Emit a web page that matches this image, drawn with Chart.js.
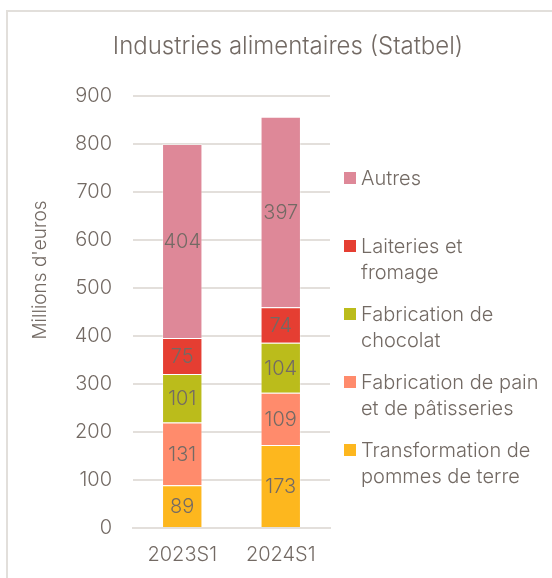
<!DOCTYPE html>
<html>
<head>
<meta charset="utf-8">
<script src="https://cdn.jsdelivr.net/npm/chart.js@4.4.1/dist/chart.umd.min.js"></script>
<style>
  body { margin: 0; background: #fff; overflow: hidden; }
  #frame {
    position: absolute; left: 6px; top: 10px; width: 600px; height: 620px;
    border: 2px solid #e2dfdb; box-sizing: border-box;
  }
  #chart { position: absolute; left: 0; top: 0; }
</style>
</head>
<body>
<div id="frame"></div>
<canvas id="chart" width="552" height="578"></canvas>
<script>
const periods = ['2023S1', '2024S1'];

const pommes = [89, 173];
const pain = [131, 109];
const chocolat = [101, 104];
const laiteries = [75, 74];
const autres = [404, 397];

const yTicks = [0, 100, 200, 300, 400, 500, 600, 700, 800, 900];

const textColor = '#736a64';
const gridColor = '#e3dfdb';
const fontFamily = 'Inter, sans-serif';

// legend text, top to bottom, as wrapped in the picture
const legendText = [
  ['Autres'],
  ['Laiteries et', 'fromage'],
  ['Fabrication de', 'chocolat'],
  ['Fabrication de pain', 'et de pâtisseries'],
  ['Transformation de', 'pommes de terre']
];

const datasets = [
  { label: 'Transformation de pommes de terre', data: pommes, backgroundColor: '#fdb71e' },
  { label: 'Fabrication de pain et de pâtisseries', data: pain, backgroundColor: '#ff8b6c' },
  { label: 'Fabrication de chocolat', data: chocolat, backgroundColor: '#bbbc1b' },
  { label: 'Laiteries et fromage', data: laiteries, backgroundColor: '#e53e32' },
  { label: 'Autres', data: autres, backgroundColor: '#de8898' }
].map(d => ({
  ...d,
  borderColor: 'rgba(255,255,255,0.35)',
  borderWidth: 1,
  barPercentage: 0.41,
  categoryPercentage: 1
}));

// title, axis title, value labels and legend
const decorations = {
  id: 'decorations',
  afterDatasetsDraw(chart) {
    const ctx = chart.ctx;
    ctx.save();
    ctx.fillStyle = textColor;
    ctx.textAlign = 'center';
    ctx.textBaseline = 'middle';

    // values inside the segments
    ctx.font = '300 20px ' + fontFamily;
    chart.data.datasets.forEach((ds, i) => {
      chart.getDatasetMeta(i).data.forEach((bar, j) => {
        const p = bar.getCenterPoint();
        ctx.fillText(ds.data[j], p.x, p.y + 1);
      });
    });

    // title
    ctx.font = '300 24px ' + fontFamily;
    ctx.fillText('Industries alimentaires (Statbel)', 288, 47);

    // y axis title
    ctx.save();
    ctx.translate(40, 270);
    ctx.rotate(-Math.PI / 2);
    ctx.font = '300 19px ' + fontFamily;
    ctx.fillText("Millions d'euros", 0, 0);
    ctx.restore();

    // legend
    ctx.textAlign = 'left';
    ctx.font = '300 20px ' + fontFamily;
    const byName = {};
    chart.data.datasets.forEach(ds => { byName[ds.label] = ds.backgroundColor; });
    legendText.forEach((lines, i) => {
      const y = 178 + i * 68;
      ctx.fillStyle = byName[lines.join(' ')];
      ctx.fillRect(344, y - 6, 12, 12);
      ctx.fillStyle = textColor;
      lines.forEach((line, k) => ctx.fillText(line, 361, y + k * 25.5 + 1));
    });
    ctx.restore();
  }
};

const tickFont = { family: fontFamily, size: 20, weight: 300 };

new Chart(document.getElementById('chart'), {
  type: 'bar',
  data: { labels: periods, datasets },
  options: {
    responsive: false,
    animation: false,
    layout: { padding: { top: 96, right: 222, bottom: 0, left: 0 } },
    plugins: {
      legend: { display: false },
      title: { display: false },
      tooltip: { enabled: false }
    },
    scales: {
      x: {
        stacked: true,
        grid: { display: false },
        border: { color: gridColor, width: 2 },
        ticks: { color: textColor, font: tickFont, padding: 7 },
        afterFit: s => { s.height = 50; }
      },
      y: {
        stacked: true,
        min: 0,
        max: 900,
        afterBuildTicks: s => { s.ticks = yTicks.map(v => ({ value: v })); },
        grid: { color: gridColor, lineWidth: 2, drawTicks: false },
        border: { display: false },
        ticks: { color: textColor, font: tickFont, padding: 21 },
        afterFit: s => { s.width = 133; }
      }
    }
  },
  plugins: [decorations]
});
</script>
</body>
</html>
